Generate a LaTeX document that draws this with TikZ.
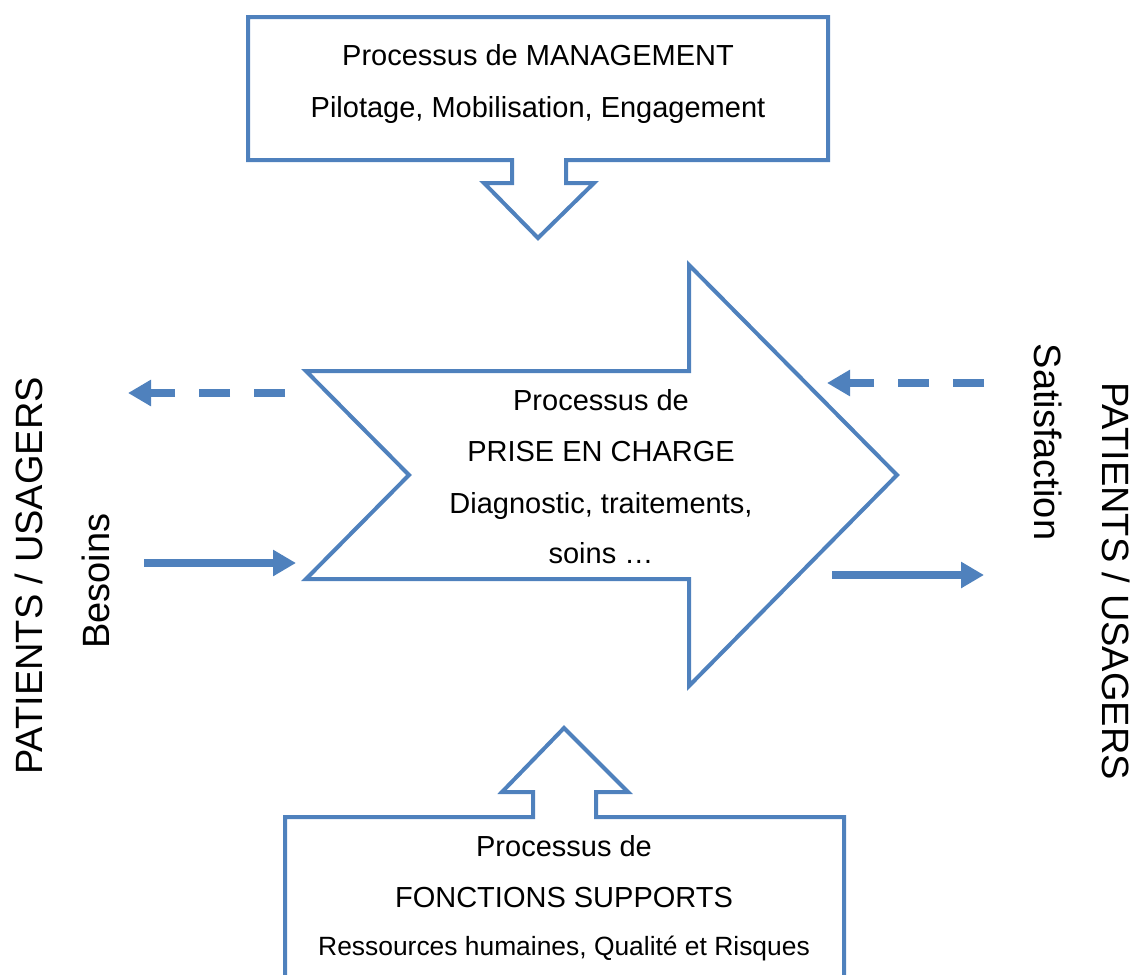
\documentclass[tikz,border=0pt]{standalone}
\usepackage{fontspec}
\setmainfont{Liberation Sans}
\usetikzlibrary{arrows.meta}
\definecolor{accent}{HTML}{4F81BD}
\begin{document}
\begin{tikzpicture}[x=0.5pt,y=-0.5pt,
  outline/.style={draw=accent,line width=2pt,line join=miter},
  flow/.style={draw=accent,line width=3.7pt,-{Triangle[length=11.5pt,width=12.5pt]}},
  ret/.style={flow,dash pattern=on 15.5pt off 12pt},
  txt/.style={anchor=base,inner sep=0pt,font=\fontsize{14.5}{17}\selectfont},
  smalltxt/.style={anchor=base,inner sep=0pt,font=\fontsize{13.2}{16}\selectfont},
  side/.style={inner sep=0pt,font=\fontsize{19}{23}\selectfont}]
\useasboundingbox (0,0) rectangle (1136,975);
\clip (0,0) rectangle (1136,975);
% management callout
\draw[outline] (248,17) -- (828,17) -- (828,160) -- (566,160) -- (566,183) -- (594,183)
  -- (538,238) -- (484,183) -- (512,183) -- (512,160) -- (248,160) -- cycle;
% main process arrow
\draw[outline] (306,371) -- (689,371) -- (689,265) -- (897,475) -- (689,686)
  -- (689,579) -- (306,579) -- (409,475) -- cycle;
% support callout
\draw[outline] (285,1010) -- (285,817) -- (533,817) -- (533,792) -- (502,792) -- (564,728)
  -- (628,792) -- (596,792) -- (596,817) -- (844,817) -- (844,1010);
% texts
\node[txt] (m1) at (538,65) {Processus de MANAGEMENT};
\node[txt] (m2) at (538,117) {Pilotage, Mobilisation, Engagement};
\node[txt] (p1) at (601,410) {Processus de};
\node[txt] (p2) at (601,461) {PRISE EN CHARGE};
\node[txt] (p3) at (601,513) {Diagnostic, traitements,};
\node[txt] (p4) at (601,563) {soins …};
\node[txt] (s1) at (564,856) {Processus de};
\node[txt] (s2) at (564,907) {FONCTIONS SUPPORTS};
\node[smalltxt] (s3) at (564,955) {Ressources humaines, Qualité et Risques};
\node[side,rotate=90] (patL) at (29,576) {PATIENTS / USAGERS};
\node[side,rotate=90] (bes) at (96,581) {Besoins};
\node[side,rotate=-90] (patR) at (1116,581) {PATIENTS / USAGERS};
\node[side,rotate=-90] (sat) at (1048,442) {Satisfaction};
% flows
\coordinate (dl0) at (285,393); \coordinate (dl1) at (128,393);
\coordinate (sl0) at (144,563); \coordinate (sl1) at (296,563);
\coordinate (dr0) at (984,383); \coordinate (dr1) at (827,383);
\coordinate (sr0) at (832,575); \coordinate (sr1) at (984,575);
\draw[ret] (dl0) -- (dl1);
\draw[flow] (sl0) -- (sl1);
\draw[ret] (dr0) -- (dr1);
\draw[flow] (sr0) -- (sr1);
\end{tikzpicture}
\end{document}
